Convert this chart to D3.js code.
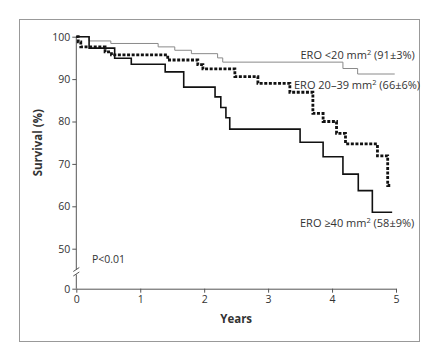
<!DOCTYPE html>
<html>
<head>
<meta charset="utf-8">
<script src="https://cdn.jsdelivr.net/npm/d3@7"></script>
<style>
  body { margin: 0; background: #fff; }
  text { font-family: "Open Sans", "Noto Sans", sans-serif; fill: #333; }
</style>
</head>
<body>
<div id="chart"></div>
<script>
// Kaplan-Meier step points: [years, survival %]
var eroLow = [[0, 100], [0.2, 99.0], [0.54, 98.4], [1.28, 97.6], [1.54, 96.8], [1.80, 96.0],
  [2.21, 95.0], [2.29, 94.0], [4.17, 92.5], [4.40, 91.2], [4.98, 91.2]];
var eroMid = [[0, 100], [0.03, 98.8], [0.07, 97.6], [0.45, 96.4], [0.55, 95.7], [1.43, 94.5],
  [1.90, 93.4], [1.98, 92.4], [2.48, 90.6], [2.84, 89.0], [3.34, 86.9], [3.70, 81.9],
  [3.86, 80.0], [4.07, 77.2], [4.21, 74.7], [4.71, 71.9], [4.87, 64.9], [4.91, 64.9]];
var eroHigh = [[0, 100], [0.2, 97.3], [0.6, 94.9], [0.86, 93.5], [1.39, 91.7], [1.68, 88.1],
  [2.17, 85.8], [2.26, 83.3], [2.34, 80.9], [2.40, 78.2], [3.50, 75.1], [3.86, 71.7],
  [4.17, 67.6], [4.41, 63.7], [4.63, 58.6], [4.94, 58.6]];

var xTicks = [0, 1, 2, 3, 4, 5];
var yTicks = [0, 50, 60, 70, 80, 90, 100];

var width = 438, height = 361;

var svg = d3.select("#chart")
  .append("svg")
    .attr("width", width)
    .attr("height", height);

// frame
svg.append("rect")
  .attr("x", 19.5).attr("y", 19.5)
  .attr("width", 400).attr("height", 322)
  .attr("fill", "none")
  .attr("stroke", "#999")
  .attr("stroke-width", 1);

var x = d3.scaleLinear()
  .domain([0, 5])
  .range([76.3, 396]);

// broken axis: 0 at bottom, then 50..100
var y = d3.scaleLinear()
  .domain([0, 45, 50, 100])
  .range([288.7, 272, 248.7, 36.7]);

// Y axis
var yAxis = svg.append("g")
  .attr("transform", "translate(" + x(0) + ",0)")
  .call(d3.axisLeft(y).tickValues(yTicks).tickSize(4).tickPadding(2));
yAxis.select(".domain").remove();
yAxis.selectAll("line").attr("stroke", "#555");
yAxis.selectAll("text").style("font-size", "10.5px").attr("fill", "#333");

svg.append("line")
  .attr("x1", x(0)).attr("x2", x(0))
  .attr("y1", y(100)).attr("y2", 269.5)
  .attr("stroke", "#555");
svg.append("line")
  .attr("x1", x(0)).attr("x2", x(0))
  .attr("y1", 274.5).attr("y2", y(0))
  .attr("stroke", "#555");
// break marks
[269.5, 274].forEach(function(b) {
  svg.append("line")
    .attr("x1", x(0) - 3).attr("x2", x(0) + 3)
    .attr("y1", b + 2).attr("y2", b - 2)
    .attr("stroke", "#555");
});

// X axis
var xAxis = svg.append("g")
  .attr("transform", "translate(0," + y(0) + ")")
  .call(d3.axisBottom(x).tickValues(xTicks).tickFormat(d3.format("d"))
    .tickSize(4).tickPadding(3).tickSizeOuter(0));
xAxis.select(".domain").attr("stroke", "#555");
xAxis.selectAll("line").attr("stroke", "#555");
xAxis.selectAll("text").style("font-size", "10.5px").attr("fill", "#333");

// axis titles
svg.append("text")
  .attr("x", x(2.5)).attr("y", 323)
  .attr("text-anchor", "middle")
  .style("font-size", "11.5px")
  .style("font-weight", "bold")
  .text("Years");

svg.append("text")
  .attr("transform", "translate(42," + y(75) + ") rotate(-90)")
  .attr("text-anchor", "middle")
  .style("font-size", "11.5px")
  .style("font-weight", "bold")
  .text("Survival (%)");

// curves
var line = d3.line()
  .x(function(d) { return x(d[0]); })
  .y(function(d) { return y(d[1]); })
  .curve(d3.curveStepAfter);

svg.append("path")
  .datum(eroLow)
  .attr("d", line)
  .attr("fill", "none")
  .attr("stroke", "#8a8a8a")
  .attr("stroke-width", 1);

svg.append("path")
  .datum(eroHigh)
  .attr("d", line)
  .attr("fill", "none")
  .attr("stroke", "#111")
  .attr("stroke-width", 1.6);

svg.append("path")
  .datum(eroMid)
  .attr("d", line)
  .attr("fill", "none")
  .attr("stroke", "#111")
  .attr("stroke-width", 2.8)
  .attr("stroke-dasharray", "3,1.6");

// series labels
function label(xp, yp, pre, post) {
  var t = svg.append("text")
    .attr("x", xp).attr("y", yp)
    .style("font-size", "11px");
  t.append("tspan").text(pre);
  t.append("tspan").attr("dy", -4).style("font-size", "7.5px").text("2");
  t.append("tspan").attr("dy", 4).text(post);
}
label(300.5, 59, "ERO <20 mm", " (91\u00b13%)");
label(294, 89, "ERO 20\u201339 mm", " (66\u00b16%)");
label(300, 227, "ERO \u226540 mm", " (58\u00b19%)");

svg.append("text")
  .attr("x", 92).attr("y", 263)
  .style("font-size", "10.5px")
  .text("P<0.01");
</script>
</body>
</html>
